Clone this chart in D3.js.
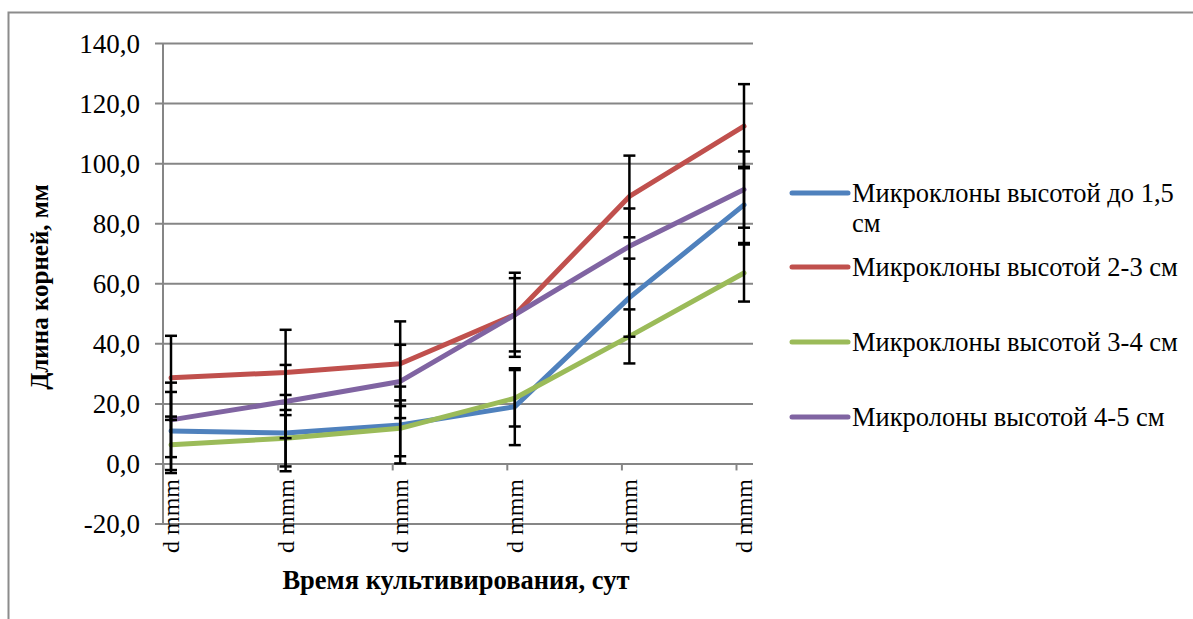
<!DOCTYPE html>
<html>
<head>
<meta charset="utf-8">
<script src="https://cdn.jsdelivr.net/npm/d3@7"></script>
<style>
  body { margin: 0; background: #fff; }
  svg { display: block; }
  text { font-family: "Liberation Serif", "Times New Roman", serif; fill: #000; }
</style>
</head>
<body>
<div id="chart"></div>
<script>
let width = 1193;
let height = 619;

// categories (labels are unformatted dates in the original)
let categories = ["d mmm", "d mmm", "d mmm", "d mmm", "d mmm", "d mmm"];
let yTicks = [-20, 0, 20, 40, 60, 80, 100, 120, 140];

let seriesNames = [
  "Микроклоны высотой до 1,5 см",
  "Микроклоны высотой 2-3 см",
  "Микроклоны высотой 3-4 см",
  "Микролоны высотой 4-5 см"
];
let seriesColors = ["#4f81bd", "#c0504d", "#9bbb59", "#8064a2"];

let blueValues = [10.8, 10.1, 12.8, 18.9, 55.2, 86.1];
let redValues = [28.5, 30.3, 33.2, 49.5, 88.9, 112.3];
let greenValues = [6.2, 8.4, 11.7, 21.7, 42.3, 63.4];
let purpleValues = [14.5, 20.6, 27.3, 49.5, 72.3, 91.2];

let blueErr = [13, 12.7, 12.8, 12.8, 13, 12.7];
let redErr = [14, 14.2, 14.1, 14, 13.6, 14];
let greenErr = [9.4, 9.4, 9.3, 9.4, 9, 9.5];
let purpleErr = [12.4, 12.2, 12.2, 12.2, 12.6, 12.7];

let series = [
  { name: seriesNames[0], color: seriesColors[0], values: blueValues, err: blueErr },
  { name: seriesNames[1], color: seriesColors[1], values: redValues, err: redErr },
  { name: seriesNames[2], color: seriesColors[2], values: greenValues, err: greenErr },
  { name: seriesNames[3], color: seriesColors[3], values: purpleValues, err: purpleErr }
];

let serif = "'Liberation Serif', 'Times New Roman', serif";
let plot = { left: 163, right: 753, top: 43, bottom: 523.5 };

let svg = d3.select("#chart").append("svg")
  .attr("width", width)
  .attr("height", height);

// outer frame (only top and left edge visible in the original)
svg.append("path")
  .attr("d", "M8.5," + height + "V12.5H" + width)
  .attr("fill", "none")
  .attr("stroke", "#8c8c8c")
  .attr("stroke-width", 2);

let idx = d3.range(categories.length);
let xScale = d3.scalePoint().domain(idx).range([plot.left, 736]);
let yScale = d3.scaleLinear().domain([-20, 140]).range([plot.bottom, plot.top]);

// the markers sit a bit right of the category ticks in the original
let dataShift = 8;

// gridlines + y ticks
let yAxis = d3.axisLeft(yScale)
  .tickValues(yTicks)
  .tickSize(-(plot.right - plot.left))
  .tickFormat(function (d) { return d.toFixed(1).replace(".", ","); });

let gy = svg.append("g")
  .attr("transform", "translate(" + plot.left + ",0)")
  .call(yAxis);
gy.attr("font-family", serif);
gy.select(".domain").remove();
gy.selectAll(".tick line")
  .attr("x1", -8)
  .attr("stroke", "#868686")
  .attr("stroke-width", 2);
gy.selectAll(".tick text")
  .style("font-size", "27px")
  .attr("dy", "0.34em")
  .attr("x", -23);

// vertical axis line
svg.append("line")
  .attr("x1", plot.left).attr("x2", plot.left)
  .attr("y1", plot.top).attr("y2", plot.bottom)
  .attr("stroke", "#868686")
  .attr("stroke-width", 2);

// category axis on the zero line
let xAxis = d3.axisBottom(xScale).tickSize(7).tickFormat(function () { return ""; });
let gx = svg.append("g")
  .attr("transform", "translate(0," + yScale(0) + ")")
  .call(xAxis);
gx.select(".domain").remove();
gx.selectAll(".tick line").attr("stroke", "#868686").attr("stroke-width", 2);

// rotated category labels
svg.append("g").selectAll("text")
  .data(idx)
  .enter()
  .append("text")
  .attr("transform", function (i) {
    return "translate(" + (xScale(i) + dataShift + 8) + ",479) rotate(-90)";
  })
  .attr("text-anchor", "end")
  .attr("font-family", serif)
  .style("font-size", "24px")
  .text(function (i) { return categories[i]; });

// lines
let line = d3.line()
  .x(function (d, i) { return xScale(i) + dataShift; })
  .y(function (d) { return yScale(d); });

svg.append("g").selectAll("path")
  .data(series)
  .enter()
  .append("path")
  .attr("d", function (s) { return line(s.values); })
  .attr("fill", "none")
  .attr("stroke", function (s) { return s.color; })
  .attr("stroke-width", 5)
  .attr("stroke-linejoin", "round")
  .attr("stroke-linecap", "round");

// error bars
let errData = [];
series.forEach(function (s) {
  s.values.forEach(function (v, i) {
    errData.push({ i: i, lo: v - s.err[i], hi: v + s.err[i] });
  });
});

let eb = svg.append("g").attr("stroke", "#000").attr("stroke-width", 2.5);
errData.forEach(function (d) {
  let x = xScale(d.i) + dataShift;
  eb.append("line")
    .attr("x1", x).attr("x2", x)
    .attr("y1", yScale(d.hi)).attr("y2", yScale(d.lo));
  [d.hi, d.lo].forEach(function (v) {
    eb.append("line")
      .attr("x1", x - 6).attr("x2", x + 6)
      .attr("y1", yScale(v)).attr("y2", yScale(v));
  });
});

// axis titles
svg.append("text")
  .attr("x", 456)
  .attr("y", 589)
  .attr("text-anchor", "middle")
  .attr("font-family", serif)
  .style("font-size", "26.5px")
  .style("font-weight", "bold")
  .text("Время культивирования, сут");

svg.append("text")
  .attr("transform", "translate(48,287) rotate(-90)")
  .attr("text-anchor", "middle")
  .attr("font-family", serif)
  .style("font-size", "25px")
  .style("font-weight", "bold")
  .text("Длина корней, мм");

// legend
let legendY = [193, 267, 342, 417];
let legend = svg.append("g").attr("font-family", serif);
series.forEach(function (s, k) {
  let g = legend.append("g").attr("transform", "translate(792," + legendY[k] + ")");
  g.append("line")
    .attr("x1", 0).attr("x2", 56)
    .attr("stroke", s.color)
    .attr("stroke-width", 5)
    .attr("stroke-linecap", "round");
  let t = g.append("text")
    .attr("x", 60)
    .attr("y", 9)
    .style("font-size", "26.5px");
  if (k === 0) {
    t.append("tspan").attr("x", 60).text("Микроклоны высотой до 1,5");
    t.append("tspan").attr("x", 60).attr("dy", 30).text("см");
  } else {
    t.text(s.name);
  }
});
</script>
</body>
</html>
